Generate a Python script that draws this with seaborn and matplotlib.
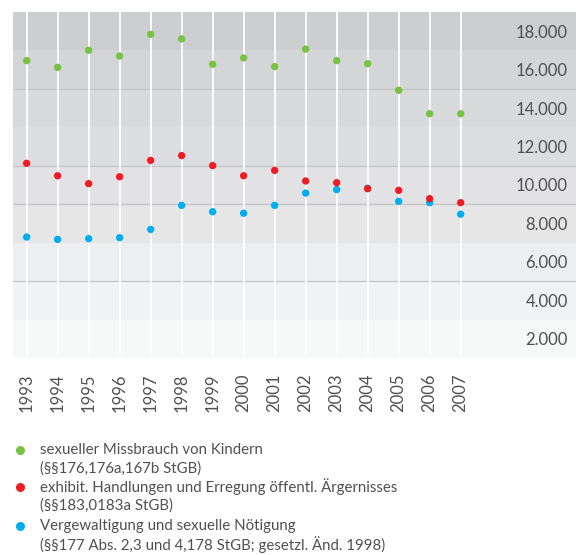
import pandas as pd
import matplotlib.pyplot as plt
from matplotlib.lines import Line2D
import seaborn as sns

years = list(range(1993, 2008))
missbrauch = [15470, 15120, 16010, 15710, 16840, 16600, 15280, 15610, 15160,
              16070, 15470, 15310, 13930, 12710, 12710]
exhibit = [10130, 9480, 9070, 9430, 10280, 10530, 10010, 9480, 9760,
           9210, 9120, 8810, 8720, 8290, 8080]
vergewaltigung = [6290, 6170, 6210, 6260, 6690, 7940, 7610, 7530, 7940,
                  8580, 8760, 8830, 8150, 8080, 7480]

series_names = ['missbrauch', 'vergewaltigung', 'exhibit']
colors = {'missbrauch': '#77c143', 'vergewaltigung': '#00aeef', 'exhibit': '#ee1c25'}

legend_lines = [
    ('missbrauch', 'sexueller Missbrauch von Kindern', '(§§176,176a,167b StGB)'),
    ('exhibit', 'exhibit. Handlungen und Erregung öffentl. Ärgernisses', '(§§183,0183a StGB)'),
    ('vergewaltigung', 'Vergewaltigung und sexuelle Nötigung',
     '(§§177 Abs. 2,3 und 4,178 StGB; gesetzl. Änd. 1998)'),
]

ytick_values = [2000, 4000, 6000, 8000, 10000, 12000, 14000, 16000, 18000]
ytick_labels = ['2.000', '4.000', '6.000', '8.000', '10.000', '12.000', '14.000', '16.000', '18.000']

df = pd.concat([
    pd.DataFrame({'year': years, 'value': missbrauch, 'series': 'missbrauch'}),
    pd.DataFrame({'year': years, 'value': vergewaltigung, 'series': 'vergewaltigung'}),
    pd.DataFrame({'year': years, 'value': exhibit, 'series': 'exhibit'}),
], ignore_index=True)

sns.set_style("white")
plt.rcParams['font.family'] = ['Lato', 'DejaVu Sans']
text_color = '#505050'

fig = plt.figure(figsize=(5.76, 5.55), dpi=100)
ax = fig.add_axes([13 / 576, 1 - 358 / 555, 1 - 13 / 576, 346 / 555])

# background bands, darker towards the top
band_colors = ['#f7f8f8', '#f1f2f3', '#edeef0', '#e6e6e7', '#e2e2e4',
               '#dcdde0', '#d9dadc', '#d4d5d7', '#cdced0']
for i, c in enumerate(band_colors):
    ax.axhspan(i * 2000, (i + 1) * 2000, color=c, lw=0, zorder=0)
for v in [4000, 8000, 10000, 14000]:
    ax.axhline(v, color='#c4c5c7', lw=0.9, zorder=0.5)

for yr in years:
    ax.axvline(yr, color='white', lw=1.3, zorder=1)

sns.scatterplot(data=df, x='year', y='value', hue='series', palette=colors,
                s=28, edgecolor='none', legend=False, ax=ax, zorder=3)

ax.set_xlim(1992.56, 2010.72)
ax.set_ylim(0, 18000)
ax.set_xlabel('')
ax.set_ylabel('')
for s in ax.spines.values():
    s.set_visible(False)

ax.set_xticks(years)
ax.set_xticklabels([str(y) for y in years], rotation=90, fontsize=12, color=text_color)
ax.tick_params(axis='x', length=0, pad=11)

ax.yaxis.tick_right()
ax.set_yticks([v - 1000 for v in ytick_values])
ax.set_yticklabels(ytick_labels, fontsize=12, color=text_color)
ax.tick_params(axis='y', length=0, pad=-5.8)
for lab in ax.get_yticklabels():
    lab.set_horizontalalignment('right')

# legend below the chart
row_y = [450, 487, 526]
for (key, l1, l2), y in zip(legend_lines, row_y):
    fig.add_artist(Line2D([20 / 576], [1 - y / 555], marker='o', markersize=6.5,
                          color=colors[key], markeredgewidth=0, linestyle='none'))
    fig.text(40 / 576, 1 - y / 555, l1, fontsize=10.8, color=text_color, va='center')
    fig.text(40 / 576, 1 - (y + 19) / 555, l2, fontsize=10.8, color=text_color, va='center')

fig.savefig('out.png', dpi=100)
